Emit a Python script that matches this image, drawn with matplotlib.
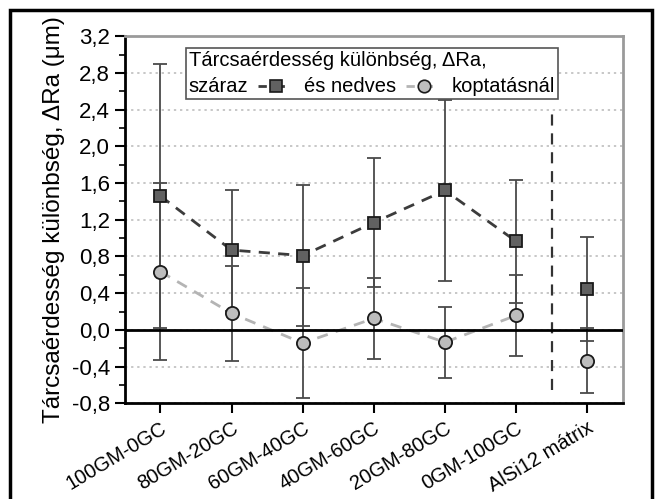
import matplotlib
matplotlib.use("Agg")
import matplotlib.pyplot as plt
from matplotlib.ticker import MultipleLocator, FuncFormatter
from matplotlib.offsetbox import TextArea, DrawingArea, HPacker, VPacker, AnchoredOffsetbox
from matplotlib.lines import Line2D
from matplotlib.patches import Rectangle

plt.rcParams["font.family"] = ["Liberation Sans", "DejaVu Sans"]

# data
categories = ["100GM-0GC", "80GM-20GC", "60GM-40GC", "40GM-60GC",
              "20GM-80GC", "0GM-100GC", "AlSi12 mátrix"]
dry = [1.46, 0.87, 0.81, 1.17, 1.52, 0.965, 0.445]
dry_err = [1.44, 0.66, 0.77, 0.70, 0.99, 0.67, 0.565]
wet = [0.635, 0.18, -0.145, 0.125, -0.135, 0.157, -0.335]
wet_err = [0.965, 0.52, 0.60, 0.445, 0.385, 0.44, 0.35]

x = list(range(len(categories)))
n_line = 6  # the matrix point is not connected

fig = plt.figure(figsize=(6.57, 4.99), dpi=100)
ax = fig.add_axes([0.190, 0.192, 0.758, 0.735])

# error bars
ax.errorbar(x, dry, yerr=dry_err, fmt="none", ecolor="#4a4a4a", elinewidth=1.3,
            capsize=5, capthick=1.3, zorder=3)
ax.errorbar(x, wet, yerr=wet_err, fmt="none", ecolor="#4a4a4a", elinewidth=1.3,
            capsize=5, capthick=1.3, zorder=3)

# dashed connecting lines
ax.plot(x[:n_line], dry[:n_line], color="#3c3c3c", lw=2, ls=(0, (4, 3)), zorder=2)
ax.plot(x[:n_line], wet[:n_line], color="#b4b4b4", lw=2, ls=(0, (4, 3)), zorder=2)

# markers
ax.plot(x, dry, ls="none", marker="s", ms=8.5, mfc="#616161", mec="#1a1a1a",
        mew=1.3, zorder=5)
ax.plot(x, wet, ls="none", marker="o", ms=9.5, mfc="#bdbdbd", mec="#1a1a1a",
        mew=1.3, zorder=5)

ax.axhline(0, color="black", lw=2, zorder=4)
ax.vlines(5.5, -0.66, 2.43, colors="#333333", lw=1.6, linestyles=(0, (5, 3.5)),
          zorder=2)

ax.set_xlim(-0.5, 6.5)
ax.set_ylim(-0.8, 3.2)
ax.yaxis.set_major_locator(MultipleLocator(0.4))
ax.yaxis.set_minor_locator(MultipleLocator(0.2))
ax.yaxis.set_major_formatter(FuncFormatter(lambda v, p: f"{v:.1f}".replace(".", ",")))
ax.set_xticks(x)
ax.set_xticklabels(categories, rotation=31, ha="right", rotation_mode="anchor",
                   fontsize=14.5)
ax.tick_params(axis="y", labelsize=16)
ax.tick_params(which="major", length=7, width=1.5, direction="out")
ax.tick_params(which="minor", length=4, width=1.2, direction="out")
ax.tick_params(axis="x", pad=4)

ax.yaxis.grid(True, which="major", ls=(0, (1.5, 2.5)), color="#b8b8b8", lw=1.1)
ax.set_axisbelow(True)

for side in ["left", "bottom"]:
    ax.spines[side].set_linewidth(2)
    ax.spines[side].set_color("black")
for side in ["top", "right"]:
    ax.spines[side].set_linewidth(2)
    ax.spines[side].set_color("#9a9a9a")

ax.set_ylabel("Tárcsaérdesség különbség, ΔRa (μm)", fontsize=17.5, labelpad=5)


# legend drawn as a packed box: text with inline line+marker samples
def sample(color, marker, mfc):
    da = DrawingArea(28, 12, 0, 0)
    da.add_artist(Line2D([1, 27], [6, 6], color=color, lw=2, ls=(0, (3, 3.5))))
    da.add_artist(Line2D([14], [6], marker=marker, ms=9 if marker == "o" else 8,
                         mfc=mfc, mec="#1a1a1a", mew=1.2))
    return da


tprops = dict(fontsize=14.5)
row1 = TextArea("Tárcsaérdesség különbség, ΔRa,", textprops=tprops)
row2 = HPacker(children=[TextArea("száraz", textprops=tprops),
                         sample("#3c3c3c", "s", "#616161"),
                         TextArea("és nedves", textprops=tprops),
                         sample("#b4b4b4", "o", "#bdbdbd"),
                         TextArea("koptatásnál", textprops=tprops)],
               align="center", pad=0, sep=6)
box = VPacker(children=[row1, row2], align="left", pad=0, sep=5)
anch = AnchoredOffsetbox(loc="upper left", child=box, pad=0.22, borderpad=0,
                         frameon=True, bbox_to_anchor=(0.122, 0.969),
                         bbox_transform=ax.transAxes)
anch.patch.set_edgecolor("#555555")
anch.patch.set_linewidth(1.2)
anch.zorder = 6
ax.add_artist(anch)

# outer frame around the figure
fig.patches.append(Rectangle((10 / 657, -0.02), 642 / 657, 1 - 10 / 499 + 0.02,
                             transform=fig.transFigure, fill=False,
                             edgecolor="black", lw=2.5))

fig.savefig("out.png", dpi=100)
